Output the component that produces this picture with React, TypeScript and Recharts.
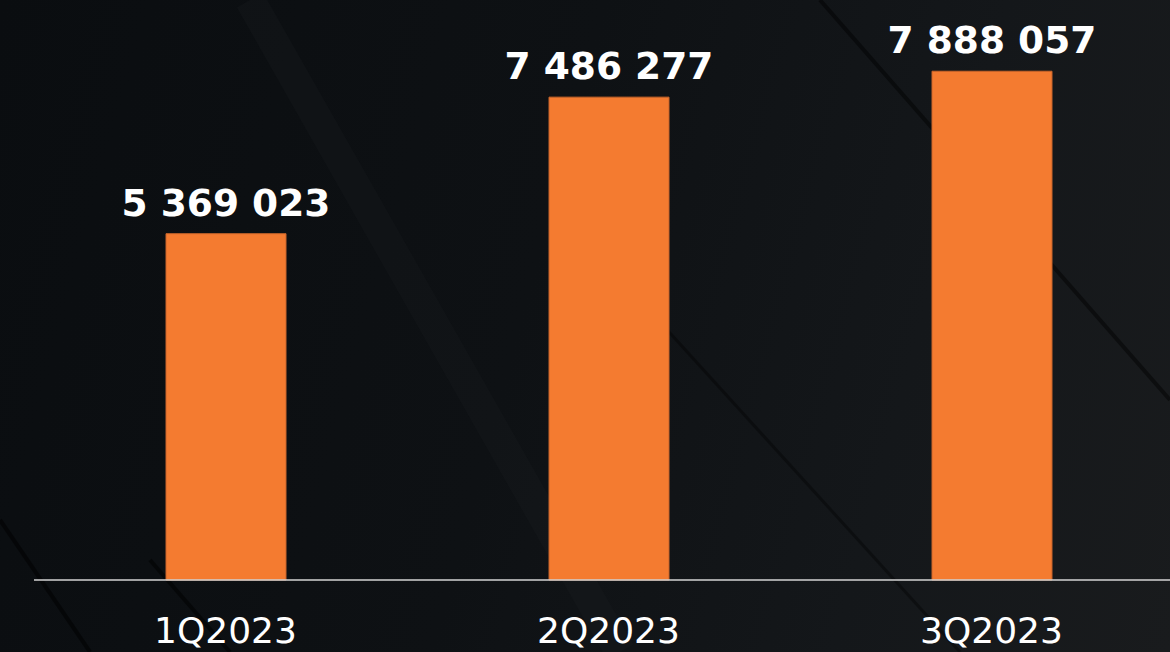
import React from "react";
import { BarChart, Bar, XAxis, YAxis, LabelList } from "recharts";

const categories = ["1Q2023", "2Q2023", "3Q2023"];
const values = [5369023, 7486277, 7888057];

const data = categories.map((c, i) => ({ name: c, value: values[i] }));

const fmt = (v: number) => String(v).replace(/\B(?=(\d{3})+(?!\d))/g, " ");

export default function App() {
  return (
    <div
      style={{
        position: "absolute",
        left: 0,
        top: 0,
        width: 1170,
        height: 652,
        overflow: "hidden",
        background: "linear-gradient(105deg, #0a0d10 0%, #0e1114 45%, #14171a 75%, #191b1d 100%)",
        fontFamily: "'DejaVu Sans', Verdana, sans-serif",
      }}
    >
      <svg width={1170} height={652} style={{ position: "absolute", left: 0, top: 0 }}>
        <line x1={250} y1={0} x2={620} y2={652} stroke="#1c1f22" strokeWidth={30} opacity={0.25} />
        <line x1={0} y1={520} x2={90} y2={652} stroke="#000000" strokeWidth={4} opacity={0.5} />
        <line x1={820} y1={0} x2={1170} y2={400} stroke="#000000" strokeWidth={4} opacity={0.45} />
        <line x1={640} y1={300} x2={960} y2={652} stroke="#000000" strokeWidth={3} opacity={0.35} />
        <line x1={150} y1={560} x2={230} y2={652} stroke="#000000" strokeWidth={4} opacity={0.5} />
      </svg>
      <div style={{ position: "absolute", left: 0, top: 0 }}>
        <BarChart
          width={1200}
          height={652}
          data={data}
          margin={{ top: 64, right: 17, bottom: 0, left: 34 }}
          barCategoryGap={0}
        >
          <YAxis hide domain={[0, 8000000]} />
          <XAxis
            dataKey="name"
            height={72}
            axisLine={{ stroke: "#d4d4d4", strokeWidth: 1.5 }}
            tickLine={false}
            tickSize={0}
            tickMargin={37}
            tick={{ fill: "#ffffff", fontSize: 36, fontFamily: "'DejaVu Sans', Verdana, sans-serif" }}
          />
          <Bar dataKey="value" fill="#F47B30" stroke="#c9652a" strokeWidth={1} barSize={120} isAnimationActive={false}>
            <LabelList
              dataKey="value"
              position="top"
              offset={18}
              formatter={(v: number) => fmt(v)}
              style={{ fill: "#ffffff", fontSize: 37.5, fontWeight: "bold", fontFamily: "'DejaVu Sans', Verdana, sans-serif" }}
            />
          </Bar>
        </BarChart>
      </div>
    </div>
  );
}
